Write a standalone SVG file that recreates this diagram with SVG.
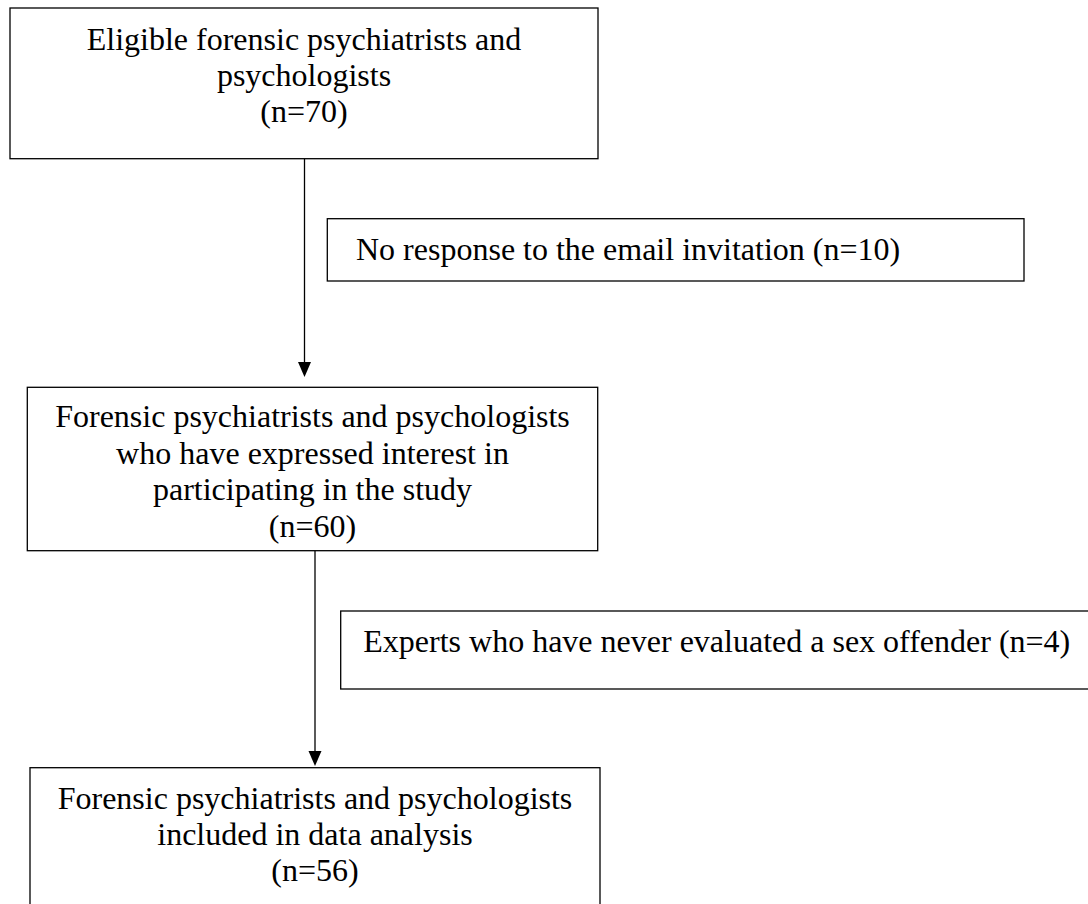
<svg xmlns="http://www.w3.org/2000/svg" width="1088" height="904" viewBox="0 0 1088 904">
<style>
.box{fill:#fff;stroke:#000;stroke-width:1.3}
.t{font-family:"Liberation Serif","Times New Roman",serif;font-size:32px;fill:#000}
.c{text-anchor:middle}
.conn{stroke:#000;stroke-width:1.3;fill:none}
.head{fill:#000;stroke:none}
</style>
<rect width="1088" height="904" fill="#fff"/>
<g id="connectors">
<line class="conn" x1="304.5" y1="158.7" x2="304.5" y2="364"/>
<polygon class="head" points="298,362 311,362 304.5,377"/>
<line class="conn" x1="315" y1="550.7" x2="315" y2="753"/>
<polygon class="head" points="308.5,751 321.5,751 315,766"/>
</g>
<g id="node-eligible">
<rect class="box" x="10" y="8" width="588" height="150.7"/>
<text class="t c" x="304" y="49.5">Eligible forensic psychiatrists and</text>
<text class="t c" x="304" y="85.8">psychologists</text>
<text class="t c" x="304" y="122">(n=70)</text>
</g>
<g id="node-no-response">
<rect class="box" x="327.3" y="218.7" width="696.7" height="62.3"/>
<text class="t" x="356" y="260">No response to the email invitation (n=10)</text>
</g>
<g id="node-interested">
<rect class="box" x="27.3" y="387.3" width="570.4" height="163.4"/>
<text class="t c" x="312.5" y="427.3">Forensic psychiatrists and psychologists</text>
<text class="t c" x="312.5" y="463.5">who have expressed interest in</text>
<text class="t c" x="312.5" y="500">participating in the study</text>
<text class="t c" x="312.5" y="536.7">(n=60)</text>
</g>
<g id="node-never-evaluated">
<rect class="box" x="340.7" y="611" width="760" height="78"/>
<text class="t" x="363.3" y="651.7">Experts who have never evaluated a sex offender (n=4)</text>
</g>
<g id="node-included">
<rect class="box" x="30" y="767.7" width="570" height="160"/>
<text class="t c" x="315" y="809">Forensic psychiatrists and psychologists</text>
<text class="t c" x="315" y="844.5">included in data analysis</text>
<text class="t c" x="315" y="880.5">(n=56)</text>
</g>
</svg>
